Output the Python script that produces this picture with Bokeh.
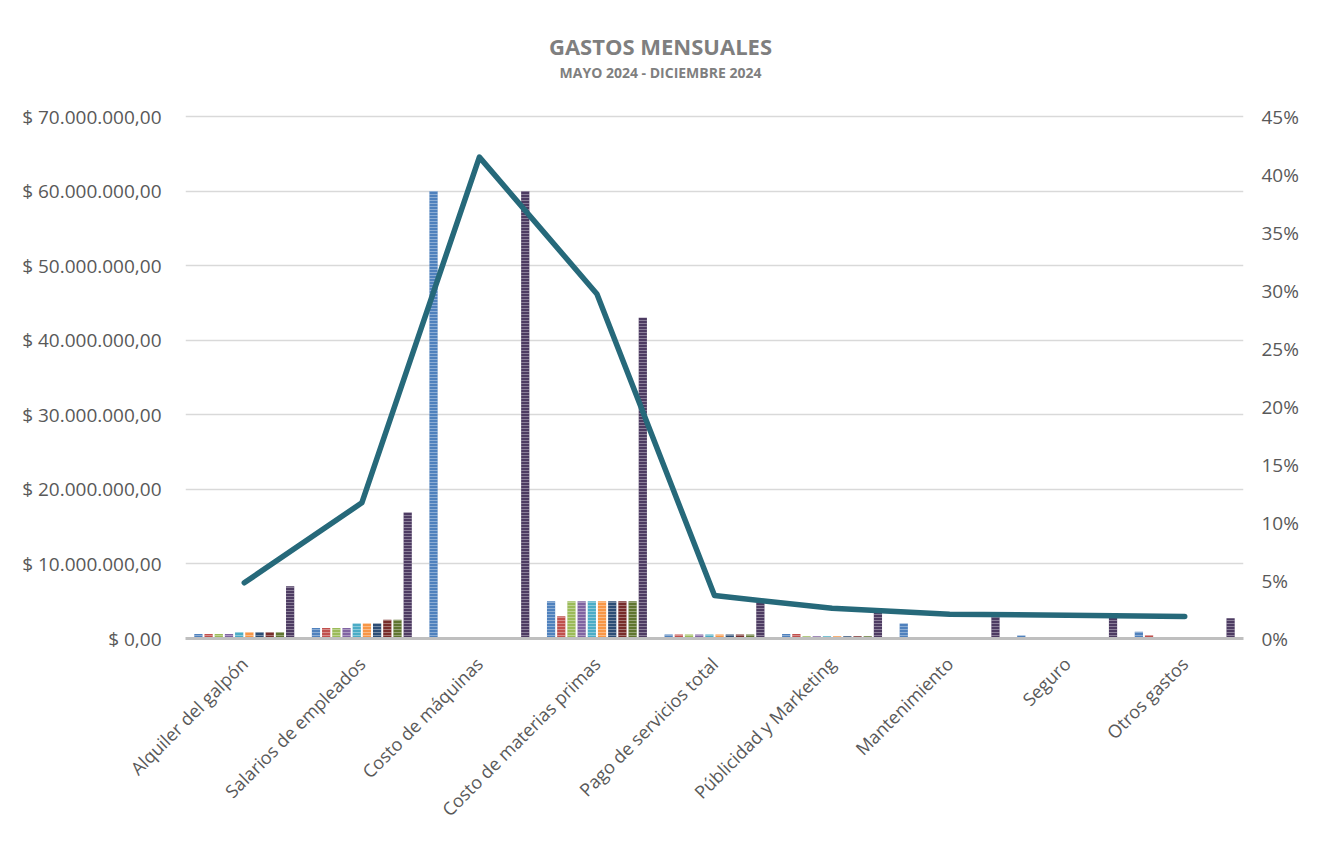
import math
from bokeh.plotting import figure
from bokeh.models import FactorRange, Range1d, LinearAxis, FixedTicker, Label, ColumnDataSource
from bokeh.transform import dodge
from bokeh.embed import file_html
from bokeh.resources import INLINE

# ---------------- data ----------------
categories = ["Alquiler del galpón", "Salarios de empleados", "Costo de máquinas",
              "Costo de materias primas", "Pago de servicios total", "Públicidad y Marketing",
              "Mantenimiento", "Seguro", "Otros gastos"]

s1 = [600000, 1400000, 60000000, 5000000, 550000, 600000, 2000000, 400000, 900000]
s2 = [600000, 1400000, 0, 3000000, 550000, 600000, 0, 150000, 450000]
s3 = [600000, 1400000, 0, 5000000, 550000, 300000, 0, 150000, 0]
s4 = [600000, 1400000, 0, 5000000, 550000, 300000, 0, 150000, 0]
s5 = [850000, 2000000, 0, 5000000, 550000, 300000, 0, 150000, 0]
s6 = [850000, 2000000, 0, 5000000, 550000, 300000, 0, 150000, 0]
s7 = [850000, 2000000, 0, 5000000, 550000, 300000, 0, 150000, 0]
s8 = [850000, 2500000, 0, 5000000, 550000, 300000, 0, 150000, 0]
s9 = [850000, 2500000, 0, 5000000, 550000, 300000, 0, 150000, 0]
total = [7000000, 16900000, 60000000, 43000000, 5000000, 3700000, 3000000, 2900000, 2700000]
pct = [4.8, 11.7, 41.5, 29.7, 3.7, 2.6, 2.1, 2.0, 1.9]

left_ticks = [0, 10000000, 20000000, 30000000, 40000000, 50000000, 60000000, 70000000]
left_labels = ["$ 0,00", "$ 10.000.000,00", "$ 20.000.000,00", "$ 30.000.000,00",
               "$ 40.000.000,00", "$ 50.000.000,00", "$ 60.000.000,00", "$ 70.000.000,00"]
right_ticks = [0, 5, 10, 15, 20, 25, 30, 35, 40, 45]
right_labels = ["0%", "5%", "10%", "15%", "20%", "25%", "30%", "35%", "40%", "45%"]

title_text = "GASTOS MENSUALES"
subtitle_text = "MAYO 2024 - DICIEMBRE 2024"

# ---------------- layout / styling ----------------
series_names = ["s1", "s2", "s3", "s4", "s5", "s6", "s7", "s8", "s9", "total"]
colors = ["#4F81BD", "#C0504D", "#9BBB59", "#8064A2", "#4BACC6", "#F79646",
          "#2C4D75", "#772C2A", "#5F7530", "#4D3B62"]
FONT = "Open Sans"
LABEL_COLOR = "#595959"

W, H = 1320, 843
FRAME_LEFT, FRAME_RIGHT = 185, 1243
AXIS_TOP, AXIS_ZERO = 116, 638      # pixel rows of the top tick and of zero
FRAME_TOP = 10                      # frame extends above top tick to hold titles
factor = (AXIS_ZERO - FRAME_TOP) / (AXIS_ZERO - AXIS_TOP)
y_end = left_ticks[-1] * factor
pct_end = right_ticks[-1] * factor

def y_at(page_y):
    return (AXIS_ZERO - page_y) / (AXIS_ZERO - AXIS_TOP) * left_ticks[-1]

def x_at(page_x):
    return (page_x - FRAME_LEFT) / (FRAME_RIGHT - FRAME_LEFT) * len(categories)

src = ColumnDataSource(dict(cat=categories, s1=s1, s2=s2, s3=s3, s4=s4, s5=s5, s6=s6,
                            s7=s7, s8=s8, s9=s9, total=total, pct=pct))

p = figure(x_range=FactorRange(*categories, range_padding=0),
           y_range=Range1d(0, y_end),
           width=W, height=H, output_backend="svg", toolbar_location=None,
           min_border_left=FRAME_LEFT, min_border_right=W - FRAME_RIGHT,
           min_border_top=FRAME_TOP, min_border_bottom=H - AXIS_ZERO)
p.extra_y_ranges = {"pct": Range1d(0, pct_end)}
p.outline_line_color = None

step = 0.0867
bar_w = 0.07
n = len(series_names)
for j, (name, col) in enumerate(zip(series_names, colors)):
    off = (j - (n - 1) / 2) * step
    p.vbar(x=dodge("cat", off, range=p.x_range), top=name, bottom=0, width=bar_w,
           source=src, fill_color=col, line_color=None,
           hatch_pattern="horizontal_line", hatch_color="white", hatch_alpha=0.35,
           hatch_scale=3, hatch_weight=1)

p.line(x="cat", y="pct", y_range_name="pct", source=src, line_color="#26697A",
       line_width=5.5, line_cap="round", line_join="round")

# left axis
ya = p.yaxis[0]
ya.ticker = FixedTicker(ticks=left_ticks)
ya.major_label_overrides = dict(zip(left_ticks, left_labels))
ya.axis_line_color = None
ya.major_tick_line_color = None
ya.minor_tick_line_color = None
ya.major_label_text_font = FONT
ya.major_label_text_font_size = "19px"
ya.major_label_text_color = LABEL_COLOR
ya.major_label_standoff = 18

# right axis
ra = LinearAxis(y_range_name="pct", ticker=FixedTicker(ticks=right_ticks))
ra.major_label_overrides = dict(zip(right_ticks, right_labels))
ra.axis_line_color = None
ra.major_tick_line_color = None
ra.minor_tick_line_color = None
ra.major_label_text_font = FONT
ra.major_label_text_font_size = "19px"
ra.major_label_text_color = LABEL_COLOR
ra.major_label_standoff = 12
p.add_layout(ra, "right")

# x axis
xa = p.xaxis[0]
xa.axis_line_color = "#BFBFBF"
xa.axis_line_width = 3
xa.major_tick_line_color = None
xa.minor_tick_line_color = None
xa.major_label_orientation = math.pi / 4
xa.major_label_text_font = FONT
xa.major_label_text_font_size = "18px"
xa.major_label_text_color = LABEL_COLOR
xa.major_label_standoff = 16

p.xgrid.grid_line_color = None
p.ygrid.grid_line_color = "#D9D9D9"
p.ygrid.grid_line_width = 1.5

# titles
p.add_layout(Label(x=x_at(660), y=y_at(45), text=title_text, text_align="center",
                   text_baseline="middle", text_font=FONT, text_font_size="22px",
                   text_font_style="bold", text_color="#7F7F7F"))
p.add_layout(Label(x=x_at(660), y=y_at(72), text=subtitle_text, text_align="center",
                   text_baseline="middle", text_font=FONT, text_font_size="14px",
                   text_font_style="bold", text_color="#7F7F7F"))

open("out.html", "w").write(file_html(p, INLINE))
